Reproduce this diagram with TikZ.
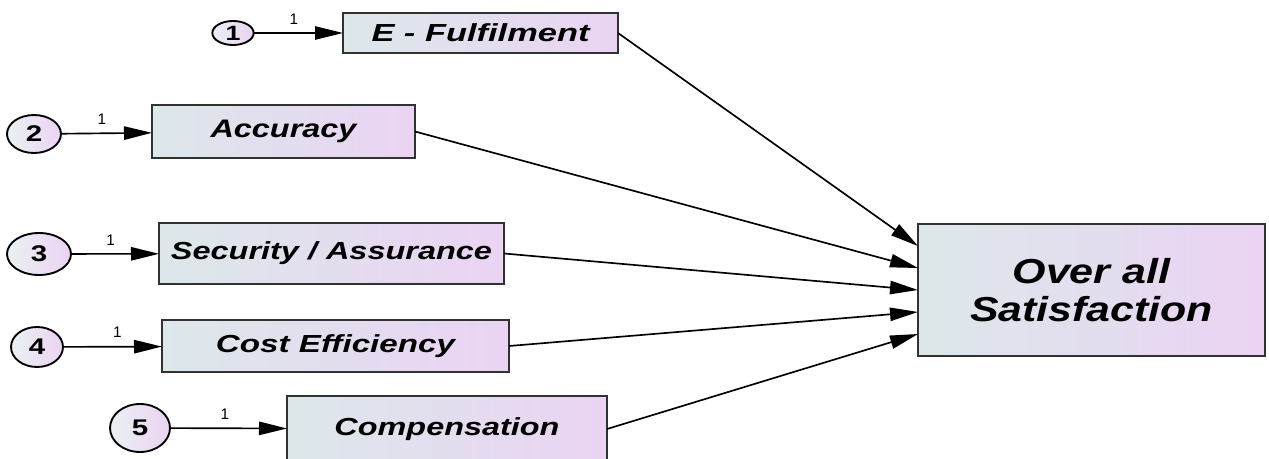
\documentclass[tikz,border=0pt]{standalone}
\usepackage{fontspec}
\setmainfont{Liberation Sans}
\usetikzlibrary{arrows.meta,calc,shapes.geometric}
\definecolor{boxL}{RGB}{220,232,234}
\definecolor{boxR}{RGB}{235,211,243}
\definecolor{edgegray}{RGB}{50,50,50}
\newcommand{\fitw}[3]{\resizebox{#1}{\height}{\fontsize{#2}{#2}\selectfont\bfseries\itshape #3}}
\tikzset{
  box/.style={draw=edgegray, line width=1.5pt, left color=boxL, right color=boxR,
    inner sep=0pt, outer sep=0pt},
  lat/.style={ellipse, draw=black, line width=1.4pt, left color=boxL!60!white, right color=boxR,
    inner sep=0pt, outer sep=0pt},
  arr/.style={line width=1.25pt, draw=black, -{Triangle[length=21pt,width=10pt]}},
  lab/.style={font=\fontsize{11.5pt}{11.5pt}\selectfont, inner sep=0pt}
}
\newcommand{\dig}[2]{\scalebox{1.3}[1]{\fontsize{#1}{#1}\selectfont\bfseries #2}}
\begin{document}
\begin{tikzpicture}[x=0.75pt,y=-0.75pt]
\useasboundingbox (0,0) rectangle (1269,459);
\clip (0,0) rectangle (1269,459);
% boxes
\node[box, minimum width=206.25pt, minimum height=30pt] (ef) at (480.5,33) {\fitw{163.5pt}{18.5pt}{E - Fulfilment}};
\node[box, minimum width=197.25pt, minimum height=39.75pt] (acc) at (283.5,131.5) {\fitw{109.5pt}{19pt}{Accuracy}};
\node[box, minimum width=258.75pt, minimum height=45.75pt] (sec) at (331.5,253.5) {\fitw{240.75pt}{18.5pt}{Security / Assurance}};
\node[box, minimum width=260.25pt, minimum height=39pt] (cost) at (335.5,346) {\fitw{179.25pt}{18.5pt}{Cost Efficiency}};
\node[box, minimum width=240pt, minimum height=49.5pt] (comp) at (447,429) {\fitw{168.75pt}{18.5pt}{Compensation}};
\node[box, minimum width=260.25pt, minimum height=99pt, align=center,
  font=\fontsize{26pt}{28pt}\selectfont\bfseries\itshape] (ov) at (1091.5,290)
  {\resizebox{118.5pt}{\height}{Over all}\\
   \resizebox{182.25pt}{\height}{Satisfaction}};
% latent circles
\node[lat, minimum width=31pt, minimum height=18pt] (c1) at (233,33) {\dig{15.5pt}{1}};
\node[lat, minimum width=40.5pt, minimum height=28.5pt] (c2) at (34,134) {\dig{17pt}{2}};
\node[lat, minimum width=48pt, minimum height=31.5pt] (c3) at (39,254) {\dig{17pt}{3}};
\node[lat, minimum width=39pt, minimum height=30pt] (c4) at (37,347) {\dig{17pt}{4}};
\node[lat, minimum width=45pt, minimum height=36pt] (c5) at (140,428) {\dig{17pt}{5}};
% targets on Over all
\coordinate (t1) at ($(ov.north west)!1/6!(ov.south west)$);
\coordinate (t2) at ($(ov.north west)!2/6!(ov.south west)$);
\coordinate (t3) at ($(ov.north west)!3/6!(ov.south west)$);
\coordinate (t4) at ($(ov.north west)!4/6!(ov.south west)$);
\coordinate (t5) at ($(ov.north west)!5/6!(ov.south west)$);
% circle to box arrows
\draw[arr] (c1) -- node[lab, pos=0.45, above=6pt]{1} (ef);
\draw[arr] (c2) -- node[lab, pos=0.45, above=6pt]{1} (acc);
\draw[arr] (c3) -- node[lab, pos=0.45, above=6pt]{1} (sec);
\draw[arr] (c4) -- node[lab, pos=0.55, above=6pt]{1} (cost);
\draw[arr] (c5) -- node[lab, pos=0.47, above=6pt]{1} (comp);
% box to outcome arrows
\draw[arr] (ef.east) -- (t1);
\draw[arr] (acc.east) -- (t2);
\draw[arr] (sec.east) -- (t3);
\draw[arr] (cost.east) -- (t4);
\draw[arr] (comp.east) -- (t5);
\end{tikzpicture}
\end{document}
